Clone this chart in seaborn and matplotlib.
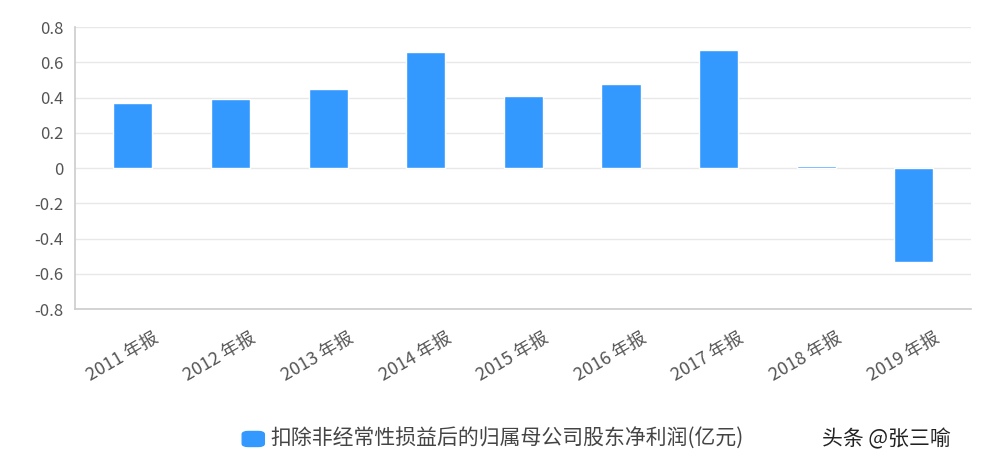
import matplotlib
matplotlib.use("Agg")
import matplotlib.pyplot as plt
import seaborn as sns
import pandas as pd

categories = ["2011 年报", "2012 年报", "2013 年报", "2014 年报", "2015 年报",
              "2016 年报", "2017 年报", "2018 年报", "2019 年报"]
values = [0.37, 0.39, 0.45, 0.66, 0.41, 0.48, 0.67, 0.012, -0.53]
series_name = "扣除非经常性损益后的归属母公司股东净利润(亿元)"
yticks = [0.8, 0.6, 0.4, 0.2, 0, -0.2, -0.4, -0.6, -0.8]

sns.set_style("white")
plt.rcParams['font.family'] = ['Noto Sans CJK SC', 'DejaVu Sans']

df = pd.DataFrame({"cat": categories, "val": values})
fig = plt.figure(figsize=(10.05, 4.69), dpi=100)
ax = fig.add_axes([0.0746, 0.341, 0.892, 0.601])
sns.barplot(data=df, x="cat", y="val", color="#3399ff", width=0.4, ax=ax, saturation=1)
ax.set_ylim(-0.8, 0.8)
ax.set_xlim(-0.594, 8.59)
ax.set_yticks(yticks)
ax.set_yticklabels([("%g" % t) for t in yticks], fontsize=12, color="#555555")
ax.set_xlabel(""); ax.set_ylabel("")
ax.set_xticks([i + 0.2 for i in range(len(categories))])
ax.set_xticklabels(categories, rotation=30, ha="right", rotation_mode="anchor", fontsize=13, color="#555555")
ax.tick_params(axis="x", length=0, pad=14)
ax.tick_params(axis="y", length=0, pad=8)
ax.grid(axis="y", color="#e8e8e8", linewidth=1)
ax.set_axisbelow(True)
for s in ["top", "right"]:
    ax.spines[s].set_visible(False)
for s in ["left", "bottom"]:
    ax.spines[s].set_color("#cccccc")
    ax.spines[s].set_linewidth(1.2)

from matplotlib.patches import FancyBboxPatch
fig.patches.append(FancyBboxPatch((0.241, 0.048), 0.022, 0.032, boxstyle="round,pad=0,rounding_size=0.006",
                                  transform=fig.transFigure, color="#3399ff"))
fig.text(0.269, 0.064, series_name, fontsize=15, color="#444444", va="center")
fig.text(0.818, 0.064, "头条 @张三喻", fontsize=15, color="#222222", va="center")
fig.savefig("out.png", dpi=100)
